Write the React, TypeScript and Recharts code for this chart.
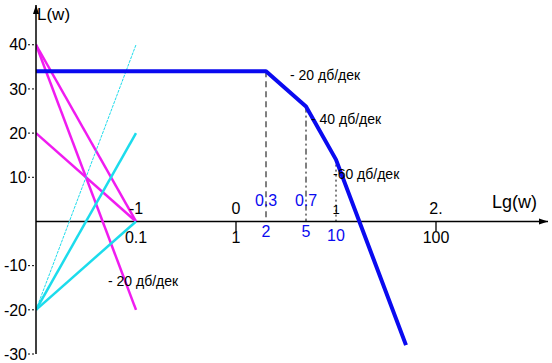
import { Line, LineChart, ReferenceDot, ReferenceLine, YAxis, XAxis } from 'recharts';

// Bode asymptotic LAFC: x = lg(w), y = L(w), dB
const asymptoteLg = [-2, 0.3, 0.7, 1, 1.7];
const asymptoteDb = [34, 34, 26, 14, -28];

// helper slopes from lg w = -2 to lg w = -1
const helperLg = [-2, -1];
const magentaStart = [40, 40, 20];
const magentaEnd = [0, -20, 0];
const cyanStart = [-20, -20, -20];
const cyanEnd = [0, 20, 40];

const yTicks = [-30, -20, -10, 10, 20, 30, 40];
const tickLg = [-1, 0, 0.3, 0.7, 1, 2];
const tickLgText = ['-1', '0', '0.3', '0.7', '1', '2.'];
const tickFreqText = ['0.1', '1', '2', '5', '10', '100'];

const slopeText = ['- 20 дб/дек', '- 40 дб/дек', '-60 дб/дек', '- 20 дб/дек'];

const FONT = '"Liberation Sans", Arial, sans-serif';
const BLUE = '#0a0af0';
const MAGENTA = '#f01cf0';
const CYAN = '#1cdcec';

const asymptote = asymptoteLg.map((x, i) => ({ x, y: asymptoteDb[i] }));
const pair = (a: number, b: number) => [
  { x: helperLg[0], y: a },
  { x: helperLg[1], y: b },
];

const txt =
  (text: string, color = '#000', size = 15, anchor: 'start' | 'middle' | 'end' = 'start') =>
  (p: any) => (
    <text x={p.cx} y={p.cy} fill={color} fontSize={size} textAnchor={anchor} fontFamily={FONT}>
      {text}
    </text>
  );

const isBreak = (lg: number) => lg > 0 && lg < 1;

export default function App() {
  return (
    <div style={{ position: 'absolute', left: 0, top: 0, background: '#fff' }}>
      <LineChart width={552} height={363} margin={{ top: 5, right: 4, bottom: 9, left: 0 }}>
        <XAxis dataKey="x" type="number" domain={[-2, 3.12]} hide allowDataOverflow />
        <YAxis
          type="number"
          domain={[-30, 49]}
          ticks={yTicks}
          width={36}
          allowDataOverflow
          axisLine={{ stroke: '#000', strokeWidth: 1.5 }}
          tickLine={{ stroke: '#000', strokeDasharray: '2 2' }}
          tickSize={8}
          tickMargin={1}
          tick={{ fill: '#000', fontSize: 16, fontFamily: FONT }}
        />

        <ReferenceLine y={0} stroke="#000" strokeWidth={1.5} />
        <ReferenceDot
          x={3.12}
          y={0}
          ifOverflow="visible"
          shape={(p: any) => <path d={`M${p.cx - 9},${p.cy - 3} L${p.cx},${p.cy} L${p.cx - 9},${p.cy + 3} Z`} fill="#000" />}
        />
        <ReferenceDot
          x={-2}
          y={49}
          ifOverflow="visible"
          shape={(p: any) => <path d={`M${p.cx - 3},${p.cy + 9} L${p.cx},${p.cy} L${p.cx + 3},${p.cy + 9} Z`} fill="#000" />}
        />

        {[0, 2].map((lg) => (
          <ReferenceLine key={`t${lg}`} segment={[{ x: lg, y: 0 }, { x: lg, y: -2.2 }]} stroke="#000" strokeWidth={1.3} />
        ))}

        <ReferenceLine segment={[{ x: 0.3, y: 34 }, { x: 0.3, y: 0 }]} stroke="#000" strokeDasharray="6 4" />
        <ReferenceLine segment={[{ x: 0.7, y: 26 }, { x: 0.7, y: 0 }]} stroke="#000" strokeDasharray="6 3 2 3" />
        <ReferenceLine segment={[{ x: 1, y: 14 }, { x: 1, y: 0 }]} stroke="#000" strokeDasharray="2 3" />

        {magentaStart.map((s, i) => (
          <Line
            key={`m${i}`}
            data={pair(s, magentaEnd[i])}
            dataKey="y"
            stroke={MAGENTA}
            strokeWidth={2.5}
            dot={false}
            isAnimationActive={false}
          />
        ))}
        {cyanStart.map((s, i) => (
          <Line
            key={`c${i}`}
            data={pair(s, cyanEnd[i])}
            dataKey="y"
            stroke={CYAN}
            strokeWidth={i === 2 ? 1 : 2.5}
            strokeDasharray={i === 2 ? '3 1' : undefined}
            dot={false}
            isAnimationActive={false}
          />
        ))}

        <Line
          data={asymptote}
          dataKey="y"
          stroke={BLUE}
          strokeWidth={4}
          strokeLinejoin="round"
          dot={false}
          isAnimationActive={false}
        />

        {tickLg.map((lg, i) => (
          <ReferenceDot
            key={`a${i}`}
            x={lg}
            y={isBreak(lg) ? 3.6 : 1.6}
            shape={txt(tickLgText[i], isBreak(lg) ? BLUE : '#000', lg === 1 ? 13 : 16, 'middle')}
          />
        ))}
        {tickLg.map((lg, i) => (
          <ReferenceDot
            key={`b${i}`}
            x={lg}
            y={isBreak(lg) ? -3.6 : lg === 1 ? -4.4 : -4.8}
            shape={txt(tickFreqText[i], lg >= 0.3 && lg <= 1 ? BLUE : '#000', 16, 'middle')}
          />
        ))}

        <ReferenceDot x={0.54} y={32} shape={txt(slopeText[0], '#000', 14)} />
        <ReferenceDot x={0.75} y={22.1} shape={txt(slopeText[1], '#000', 14)} />
        <ReferenceDot x={0.97} y={9.6} shape={txt(slopeText[2], '#000', 14)} />
        <ReferenceDot x={-1.28} y={-14.6} shape={txt(slopeText[3], '#000', 14)} />
        <ReferenceDot x={2.56} y={3.1} shape={txt('Lg(w)', '#000', 18)} />
        <ReferenceDot x={-1.99} y={45.5} shape={txt('L(w)', '#000', 17)} />
      </LineChart>
    </div>
  );
}
